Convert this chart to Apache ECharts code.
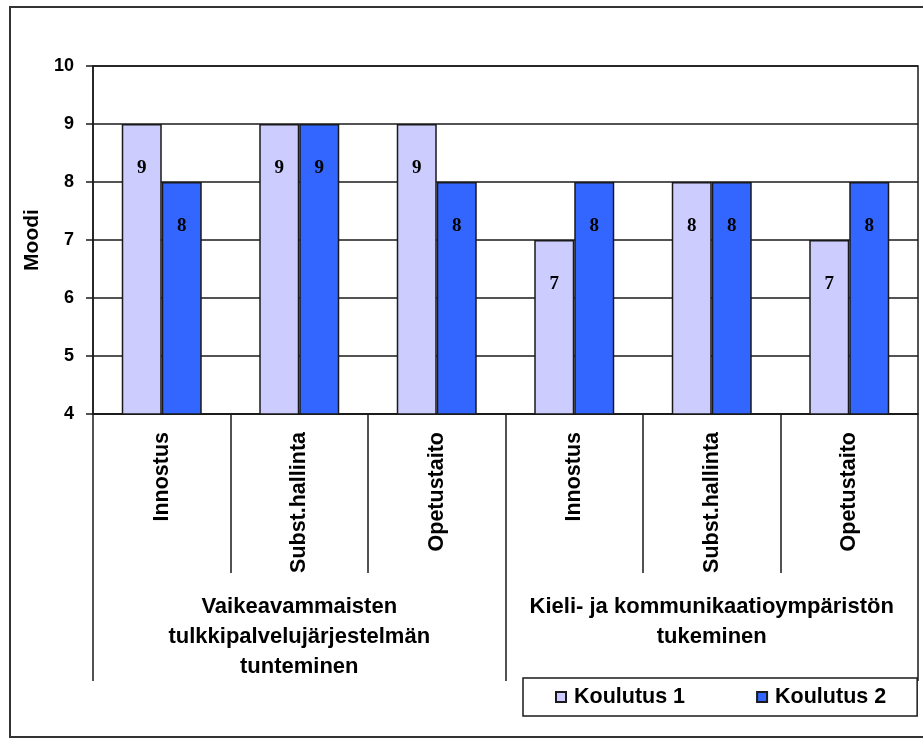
<!DOCTYPE html>
<html>
<head>
<meta charset="utf-8">
<script src="https://cdn.jsdelivr.net/npm/echarts@6/dist/echarts.min.js"></script>
<style>
  html, body { margin: 0; padding: 0; background: #fff; }
  #chart { width: 923px; height: 744px; }
</style>
</head>
<body>
<div id="chart"></div>
<script>
// Sub-categories along the inner axis, repeated for both skill groups
const categories = ['Innostus', 'Subst.hallinta', 'Opetustaito', 'Innostus', 'Subst.hallinta', 'Opetustaito'];
// Outer grouping of the categories
const groups = [
  'Vaikeavammaisten\ntulkkipalvelujärjestelmän\ntunteminen',
  'Kieli- ja kommunikaatioympäristön\ntukeminen'
];
const seriesNames = ['Koulutus 1', 'Koulutus 2'];
// Mode values per category
const koulutus1 = [9, 9, 9, 7, 8, 7];
const koulutus2 = [8, 9, 8, 8, 8, 8];
const yMin = 4, yMax = 10, yStep = 1;

const FONT = '"Liberation Sans", Arial, sans-serif';
const INK = '#1a1a1a';

const chart = echarts.init(document.getElementById('chart'), null, { renderer: 'canvas' });

const barLabel = {
  show: true,
  position: 'insideTop',
  distance: 35,
  color: '#000',
  fontFamily: '"Liberation Serif", "Times New Roman", serif',
  fontWeight: 'bold',
  fontSize: 19
};

chart.setOption({
  animation: false,
  backgroundColor: '#fff',
  graphic: [{
    type: 'rect',
    shape: { x: 10, y: 7, width: 920, height: 730 },
    style: { fill: 'none', stroke: '#333', lineWidth: 2 },
    silent: true,
    z: -1
  }],
  grid: {
    left: 93, right: 5, top: 66, bottom: 330,
    show: true, borderColor: INK, borderWidth: 1.5, backgroundColor: 'transparent'
  },
  legend: {
    data: seriesNames,
    left: 523, top: 678,
    padding: [8, 31, 8, 32],
    itemGap: 71,
    itemWidth: 10, itemHeight: 10,
    icon: 'rect',
    borderColor: INK, borderWidth: 1.5,
    textStyle: { fontFamily: FONT, fontWeight: 'bold', fontSize: 21.5, color: '#000', padding: [0, 0, 0, 3] }
  },
  xAxis: [{
    type: 'category',
    data: categories,
    position: 'bottom',
    axisLine: { show: true, lineStyle: { color: INK, width: 1.5 } },
    axisTick: { show: true, length: 159, lineStyle: { color: INK, width: 1.5 } },
    axisLabel: {
      rotate: 90, margin: 18, interval: 0,
      fontFamily: FONT, fontWeight: 'bold', fontSize: 21.5, color: '#000'
    },
    splitLine: { show: false }
  }, {
    type: 'category',
    data: groups,
    position: 'bottom',
    axisLine: { show: false },
    axisTick: { show: true, length: 267, lineStyle: { color: INK, width: 1.5 } },
    axisLabel: {
      margin: 178, interval: 0, lineHeight: 30,
      fontFamily: FONT, fontWeight: 'bold', fontSize: 22, color: '#000', align: 'center'
    },
    splitLine: { show: false }
  }],
  yAxis: {
    type: 'value',
    min: yMin, max: yMax, interval: yStep,
    name: 'Moodi',
    nameLocation: 'middle',
    nameGap: 46,
    nameRotate: 90,
    nameTextStyle: { fontFamily: FONT, fontWeight: 'bold', fontSize: 21, color: '#000' },
    axisLine: { show: true, lineStyle: { color: INK, width: 1.5 } },
    axisTick: { show: true, length: 7, lineStyle: { color: INK, width: 1.5 } },
    axisLabel: { margin: 19, fontFamily: FONT, fontWeight: 'bold', fontSize: 18, color: '#000' },
    splitLine: { show: true, lineStyle: { color: INK, width: 1.5 } }
  },
  series: [{
    name: seriesNames[0],
    type: 'bar',
    xAxisIndex: 0,
    data: koulutus1,
    barWidth: 40,
    barGap: '0%',
    itemStyle: { color: '#CCCCFF', borderColor: INK, borderWidth: 1.5 },
    label: barLabel
  }, {
    name: seriesNames[1],
    type: 'bar',
    xAxisIndex: 0,
    data: koulutus2,
    barWidth: 40,
    barGap: '0%',
    itemStyle: { color: '#3366FF', borderColor: INK, borderWidth: 1.5 },
    label: barLabel
  }]
});
</script>
</body>
</html>
